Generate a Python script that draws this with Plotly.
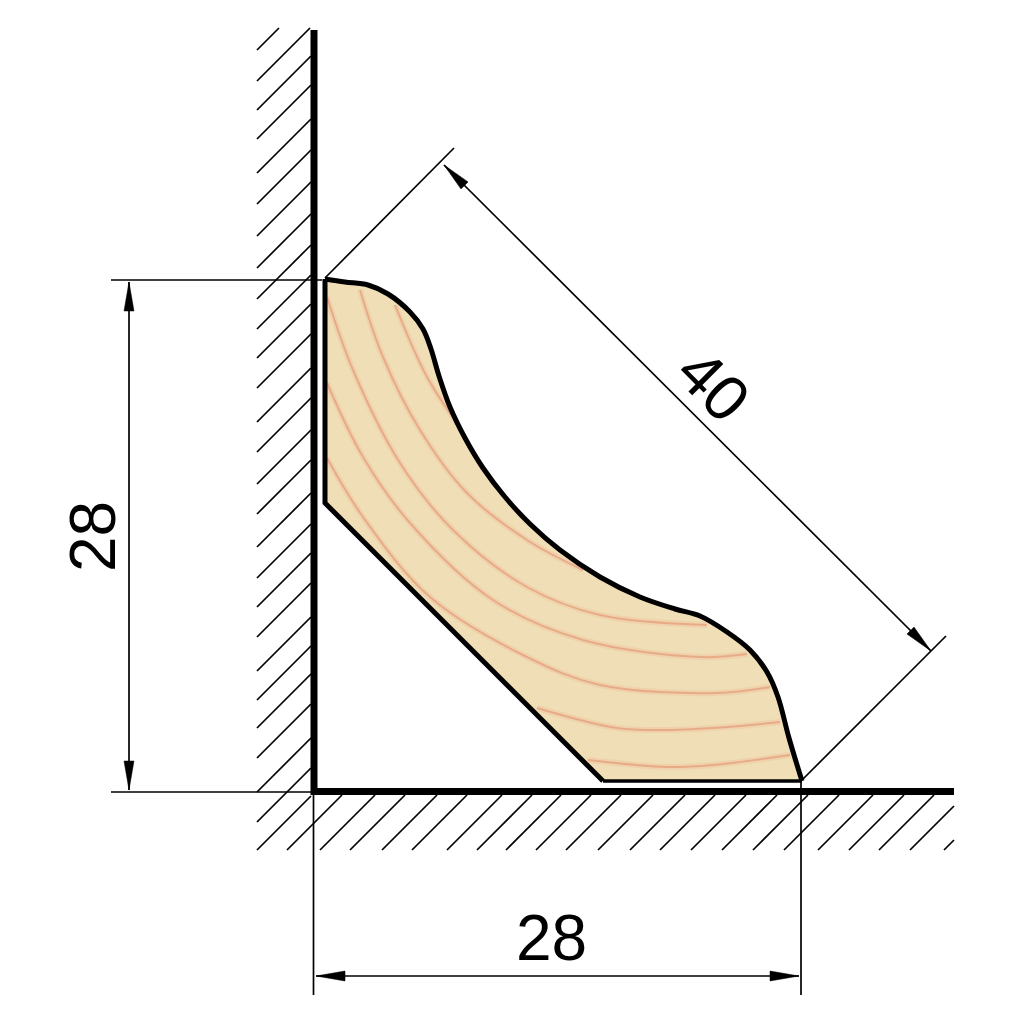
"""
Profilo battiscopa a quarto di tondo con quote, disegnato con Plotly.
"""
import numpy as np
import plotly.graph_objects as go

# Pagina: il browser lascia 8 px di margine attorno al grafico
PAGE_MARGIN = 8
PAGE_SIZE = 1024

# Contorno del profilo (pixel del riferimento)
curve_x = [325, 345, 368, 388, 410, 423, 431, 439, 450, 465, 483, 505, 530, 560, 600, 640, 675, 700, 727, 750, 767, 778, 789, 802]
curve_y = [279, 282, 285, 294, 312, 329, 349, 376, 407, 438, 468, 497, 524, 550, 577, 597, 609, 616, 632, 650, 672, 697, 738, 781]
back_x = [325, 325, 603, 802]
back_y = [279, 503, 781, 781]

# Venature del legno
grain_1_x = [327, 353, 400, 453, 527, 600, 707]
grain_1_y = [297, 370, 463, 530, 587, 615, 625]
grain_2_x = [360, 383, 420, 467, 527, 583]
grain_2_y = [290, 357, 430, 493, 540, 570]
grain_3_x = [395, 427, 457]
grain_3_y = [305, 377, 423]
grain_4_x = [327, 363, 410, 493, 583, 700, 747]
grain_4_y = [383, 457, 523, 600, 640, 657, 654]
grain_5_x = [327, 363, 430, 527, 600, 717, 770]
grain_5_y = [458, 517, 597, 657, 685, 693, 687]
grain_6_x = [537, 617, 667, 727, 780]
grain_6_y = [708, 728, 730, 727, 722]
grain_7_x = [588, 667, 713, 790]
grain_7_y = [760, 767, 765, 755]

# Tratteggio delle pareti
hatch_wall_y = [50, 81, 110, 139, 173, 204, 236, 268, 299, 329, 358, 388, 422, 452, 484, 514,
                547, 578, 607, 637, 671, 700, 728, 758, 792, 822, 850]
hatch_floor_x = [287, 320, 350, 382, 412, 447, 477, 506, 536, 566, 598, 630, 660, 691, 722, 753,
                 784, 818, 849, 879, 910, 944]

# Testi delle quote
dim_labels = ["28", "28", "40"]
dim_label_x = [93, 551, 713]
dim_label_y = [537, 938, 385]
dim_label_angle = [-90, 0, 45]


def line_trace(x, y, width=1.7, color="black", shape="linear"):
    return go.Scatter(x=x, y=y, mode="lines", hoverinfo="skip", showlegend=False,
                      line=dict(color=color, width=width, shape=shape, smoothing=1.0))


def arrow_trace(tip, tail, length=29, half_width=5):
    """Punta di freccia piena, dal vertice verso la coda."""
    tip = np.array(tip, dtype=float)
    d = np.array(tail, dtype=float) - tip
    d = d / np.hypot(*d)
    n = np.array([-d[1], d[0]])
    base = tip + d * length
    p1, p2 = base + n * half_width, base - n * half_width
    return go.Scatter(x=[tip[0], p1[0], p2[0], tip[0]], y=[tip[1], p1[1], p2[1], tip[1]],
                      mode="lines", fill="toself", fillcolor="black", hoverinfo="skip",
                      showlegend=False, line=dict(color="black", width=0.5))


def dimension(fig, start, end):
    """Linea di quota con due frecce."""
    fig.add_trace(line_trace([start[0], end[0]], [start[1], end[1]]))
    fig.add_trace(arrow_trace(start, end))
    fig.add_trace(arrow_trace(end, start))


fig = go.Figure()

# Legno
fig.add_trace(go.Scatter(x=curve_x + back_x[::-1][:-1], y=curve_y + back_y[::-1][:-1],
                         mode="lines", fill="toself", fillcolor="#F0DEB6", hoverinfo="skip",
                         showlegend=False, line=dict(color="rgba(0,0,0,0)", width=0)))
grains = [(grain_1_x, grain_1_y), (grain_2_x, grain_2_y), (grain_3_x, grain_3_y), (grain_4_x, grain_4_y),
          (grain_5_x, grain_5_y), (grain_6_x, grain_6_y), (grain_7_x, grain_7_y)]
for gx, gy in grains:
    fig.add_trace(line_trace(gx, gy, width=6, color="rgba(236,170,130,0.22)", shape="spline"))
    fig.add_trace(line_trace(gx, gy, width=2, color="#E8AB88", shape="spline"))

# Tratteggio
for y0 in hatch_wall_y:
    # le prime linee si fermano al bordo alto della parete
    run = min(54, y0 - 28)
    fig.add_trace(line_trace([257, 257 + run], [y0, y0 - run]))
for x0 in hatch_floor_x:
    run = min(55, 954 - x0)
    fig.add_trace(line_trace([x0, x0 + run], [850, 850 - run]))

# Pareti
fig.add_trace(line_trace([314, 314], [30, 795], width=7))
fig.add_trace(line_trace([311, 954], [791.5, 791.5], width=7))

# Linee di richiamo
fig.add_trace(line_trace([111, 322], [280, 280]))
fig.add_trace(line_trace([111, 313], [792, 792]))
fig.add_trace(line_trace([313.5, 313.5], [795, 995]))
fig.add_trace(line_trace([801, 801], [780, 995]))
fig.add_trace(line_trace([325, 454], [278, 148]))
fig.add_trace(line_trace([802, 946], [780, 636]))

# Quote
dimension(fig, (129, 282), (129, 790))
dimension(fig, (316, 976), (799, 976))
dimension(fig, (444, 165), (931, 651))

# Contorno del profilo
fig.add_trace(line_trace(curve_x, curve_y, width=5, shape="spline"))
fig.add_trace(line_trace(back_x[:3], back_y[:3], width=5))
fig.add_trace(line_trace(back_x[2:], back_y[2:], width=3.5))

for text, x, y, angle in zip(dim_labels, dim_label_x, dim_label_y, dim_label_angle):
    fig.add_annotation(x=x, y=y, text=text, textangle=angle, showarrow=False,
                       font=dict(family="Liberation Sans", size=64, color="black"))

fig.update_layout(
    width=PAGE_SIZE - 2 * PAGE_MARGIN, height=PAGE_SIZE - 2 * PAGE_MARGIN,
    margin=dict(l=0, r=0, t=0, b=0),
    paper_bgcolor="white", plot_bgcolor="white", showlegend=False,
    xaxis=dict(range=[PAGE_MARGIN, PAGE_SIZE - PAGE_MARGIN], visible=False, fixedrange=True),
    yaxis=dict(range=[PAGE_SIZE - PAGE_MARGIN, PAGE_MARGIN], visible=False, fixedrange=True),
)

fig.write_html("out.html")
